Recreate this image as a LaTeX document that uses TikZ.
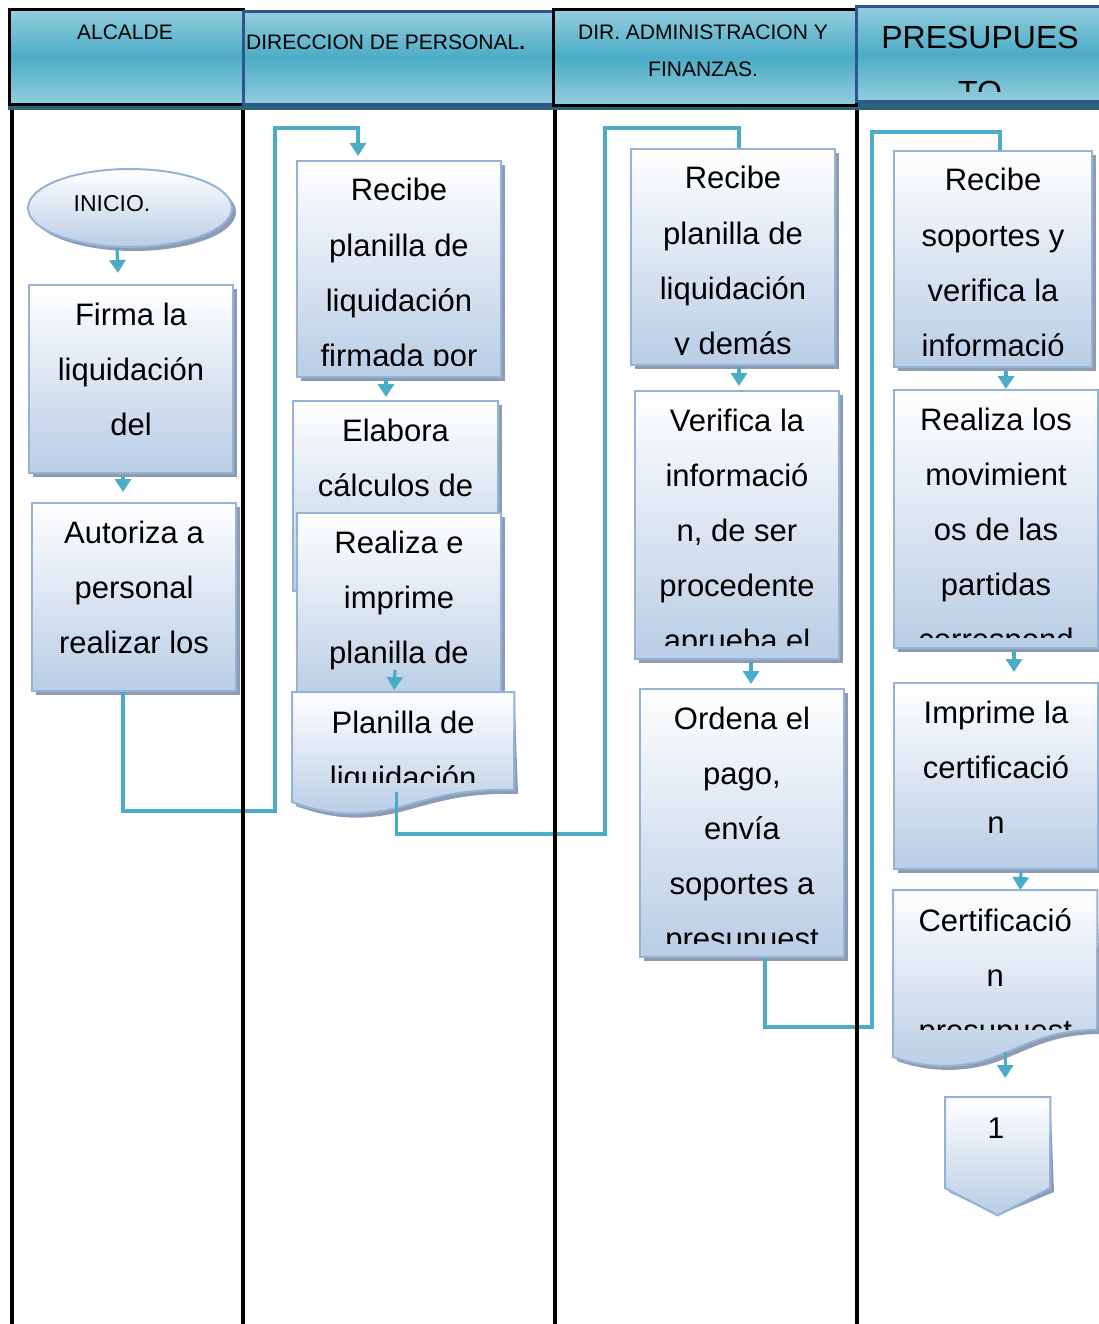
\documentclass[tikz,border=0pt]{standalone}
\usepackage{fontspec}
\setmainfont{Liberation Sans}
\usetikzlibrary{shapes.geometric,arrows.meta,shadows,calc}
\definecolor{hdrlight}{HTML}{93CDDD}
\definecolor{hdrmid}{HTML}{4BACC6}
\definecolor{hdrband}{HTML}{2B6477}
\definecolor{hdrblue}{HTML}{2F5490}
\definecolor{boxline}{HTML}{95B3D7}
\definecolor{boxfill}{HTML}{B9CDE5}
\definecolor{shadowc}{HTML}{8D9CB2}
\definecolor{flowc}{HTML}{4BACC6}

% text lines of a box, clipped a little above its lower edge
\newcommand{\boxtext}[3]{%
  \begin{scope}
    \clip (#1.north west) rectangle ([yshift=#2]#1.south east);
    \foreach \linetext [count=\k from 0] in {#3}
      \node[body] at ($(#1.north)+(0,{41+55.2*\k})$) {\linetext};
  \end{scope}}

\begin{document}
\begin{tikzpicture}[x=1pt,y=-1pt,
  hdr/.style={top color=hdrlight, bottom color=hdrlight, middle color=hdrmid,
    line width=3pt, anchor=north west, inner sep=0pt},
  hdrtext/.style={font=\fontsize{21}{21}\selectfont, anchor=base, inner sep=0pt},
  flow/.style={draw=boxline, line width=2pt, top color=white, bottom color=boxfill,
    drop shadow={shadow xshift=4pt, shadow yshift=-4pt, fill=shadowc, opacity=1},
    inner sep=0pt},
  rectbox/.style={flow, rectangle, anchor=north west},
  docpath/.style={draw=boxline, line width=2pt, top color=white, bottom color=boxfill},
  frame/.style={rectangle, anchor=north west, inner sep=0pt},
  body/.style={font=\fontsize{31}{31}\selectfont, anchor=base, inner sep=0pt},
  lane/.style={line width=3.5pt, black},
  conn/.style={draw=flowc, line width=3.2pt},
  arr/.style={conn, -{Triangle[width=16pt,length=13pt]}},
]
\useasboundingbox (0,0) rectangle (1099,1324);

% ---------- header row ----------
\fill[hdrband] (8,99) rectangle (1110,110);
\node[hdr, draw=black, minimum width=234pt, minimum height=95pt] (hA) at (8,8) {};
\node[hdr, draw=hdrblue, minimum width=310pt, minimum height=93pt] (hB) at (242,10) {};
\node[hdr, draw=black, minimum width=303pt, minimum height=96pt] (hC) at (552,8) {};
\node[hdr, draw=hdrblue, minimum width=260pt, minimum height=95pt] (hD) at (855,5) {};

\node[hdrtext] (tA) at (125,39.5) {ALCALDE};
\node[hdrtext, anchor=base west] (tB) at (246,49.5) {DIRECCION DE PERSONAL\textbf{.}};
\node[hdrtext] (tC1) at (703,39.5) {DIR. ADMINISTRACION Y};
\node[hdrtext] (tC2) at (703,76.5) {FINANZAS.};
\begin{scope}
  \clip (857,5) rectangle (1099,92);
  \node[hdrtext, font=\fontsize{32}{32}\selectfont] (tD1) at (980,48.5) {PRESUPUES};
  \node[hdrtext, font=\fontsize{32}{32}\selectfont] (tD2) at (980,103.5) {TO};
\end{scope}

% ---------- ALCALDE ----------
\node[flow, ellipse, minimum width=204pt, minimum height=78pt] (inicio) at (130,208) {};
\node[font=\fontsize{23}{23}\selectfont, anchor=base, inner sep=0pt] (iniciotxt) at (112,212) {INICIO.};

\node[rectbox, minimum width=204pt, minimum height=188pt] (firma) at (28,284) {};
\boxtext{firma}{10pt}{Firma la, liquidación, del}

\node[rectbox, minimum width=204pt, minimum height=188pt] (autoriza) at (31,502) {};
\boxtext{autoriza}{10pt}{Autoriza a, personal, realizar los}

% ---------- DIRECCION DE PERSONAL ----------
\node[rectbox, minimum width=204pt, minimum height=216pt] (rcpers) at (296,160) {};
\boxtext{rcpers}{13pt}{Recibe, planilla de, liquidación, firmada por}

\node[rectbox, minimum width=205pt, minimum height=190pt] (elabora) at (292,400) {};
\boxtext{elabora}{10pt}{Elabora, cálculos de}

\node[rectbox, minimum width=204pt, minimum height=188pt] (realiza) at (296,512) {};
\boxtext{realiza}{10pt}{Realiza e, imprime, planilla de}

% document: Planilla de liquidación
\node[frame, minimum width=222pt, minimum height=100pt] (plan) at (292,692) {};
\fill[shadowc, shift={(4,4)}] (plan.north west) -- (plan.north east) -- (514,790)
  .. controls (462,789) and (440,796) .. (400,807)
  .. controls (362,817) and (330,816) .. (292,802) -- cycle;
\path[docpath] (plan.north west) -- (plan.north east) -- (514,790)
  .. controls (462,789) and (440,796) .. (400,807)
  .. controls (362,817) and (330,816) .. (292,802) -- cycle;
\boxtext{plan}{10pt}{Planilla de, liquidación}

% ---------- DIR. ADMINISTRACION Y FINANZAS ----------
\node[rectbox, minimum width=204pt, minimum height=216pt] (rcadm) at (630,148) {};
\boxtext{rcadm}{12pt}{Recibe, planilla de, liquidación, y demás}

\node[rectbox, minimum width=204pt, minimum height=268pt] (verifica) at (634,390) {};
\boxtext{verifica}{15pt}{Verifica la, informació, {n, de ser}, procedente, aprueba el}

\node[rectbox, minimum width=204pt, minimum height=268pt] (ordena) at (639,688) {};
\boxtext{ordena}{15pt}{Ordena el, {pago,}, envía, soportes a, presupuest}

% ---------- PRESUPUESTO ----------
\node[rectbox, minimum width=198pt, minimum height=216pt] (rcpres) at (893,150) {};
\boxtext{rcpres}{13pt}{Recibe, soportes y, verifica la, informació}

\node[rectbox, minimum width=204pt, minimum height=258pt] (movim) at (893,389) {};
\boxtext{movim}{12pt}{Realiza los, movimient, os de las, partidas, correspond}

\node[rectbox, minimum width=204pt, minimum height=186pt] (imprime) at (893,682) {};
\boxtext{imprime}{10pt}{Imprime la, certificació, n}

% document: Certificación presupuestaria
\node[frame, minimum width=204pt, minimum height=149pt] (certif) at (893,890) {};
\fill[shadowc, shift={(4,4)}] (certif.north west) -- (certif.north east) -- (1097,1030)
  .. controls (1052,1030) and (1030,1043) .. (1000,1055)
  .. controls (972,1067) and (932,1071) .. (893,1057) -- cycle;
\path[docpath] (certif.north west) -- (certif.north east) -- (1097,1030)
  .. controls (1052,1030) and (1030,1043) .. (1000,1055)
  .. controls (972,1067) and (932,1071) .. (893,1057) -- cycle;
\boxtext{certif}{10pt}{Certificació, n, presupuest}

% off-page connector
\node[frame, minimum width=105pt, minimum height=118pt] (off) at (945,1097) {};
\fill[shadowc, shift={(4,4)}] (off.north west) -- (off.north east) -- (1050,1188)
  -- (off.south) -- (945,1188) -- cycle;
\path[docpath] (off.north west) -- (off.north east) -- (1050,1188)
  -- (off.south) -- (945,1188) -- cycle;
\node[font=\fontsize{30}{30}\selectfont, anchor=base, inner sep=0pt] (offtxt) at (996,1138) {1};

% ---------- connectors ----------
\coordinate (jA) at (275,811);
\coordinate (jB) at (605,834);
\coordinate (jC) at (872,1027);

\draw[arr] ([xshift=-13pt]inicio.south) -- ([xshift=-13pt,yshift=11pt]firma.north);
\draw[arr] ([xshift=-8pt,yshift=-2pt]firma.south) -- ([xshift=-11pt,yshift=10pt]autoriza.north);
\draw[arr] ([xshift=-11pt]autoriza.south) |- (jA) |- ([xshift=-41pt,yshift=32pt]rcpers.north)
  -- ([xshift=-41pt,yshift=4pt]rcpers.north);
\draw[arr] ([xshift=-13pt]rcpers.south) -- ([xshift=-9.5pt,yshift=3pt]elabora.north);
\draw[arr] ([xshift=-4pt,yshift=32pt]realiza.south) -- ([xshift=-9pt,yshift=2pt]plan.north);
\draw[conn] ([xshift=-7pt]plan.south) |- (jB) |- ([xshift=6pt,yshift=20pt]rcadm.north)
  -- ([xshift=6pt]rcadm.north);
\draw[arr] ([xshift=6pt]rcadm.south) -- ([xshift=2pt,yshift=4pt]verifica.north);
\draw[arr] ([xshift=14pt,yshift=-2pt]verifica.south) -- ([xshift=9pt,yshift=4pt]ordena.north);
\draw[conn] ([xshift=23pt]ordena.south) |- (jC) |- ([xshift=7pt,yshift=18pt]rcpres.north)
  -- ([xshift=7pt]rcpres.north);
\draw[arr] ([xshift=13pt,yshift=-2pt]rcpres.south) -- ([xshift=10pt]movim.north);
\draw[arr] ([xshift=18pt,yshift=-1pt]movim.south) -- ([xshift=18pt,yshift=10pt]imprime.north);
\draw[arr] ([xshift=25pt,yshift=-2pt]imprime.south) -- ([xshift=25pt]certif.north);
\draw[arr] ([xshift=10pt,yshift=-13pt]certif.south) -- ([xshift=7.5pt,yshift=19pt]off.north);

% ---------- lane separators ----------
\draw[lane] (12,110) -- (12,1324);
\draw[lane] (243,110) -- (243,1324);
\draw[lane] (555,110) -- (555,1324);
\draw[lane] (857,110) -- (857,1324);
\end{tikzpicture}
\end{document}
